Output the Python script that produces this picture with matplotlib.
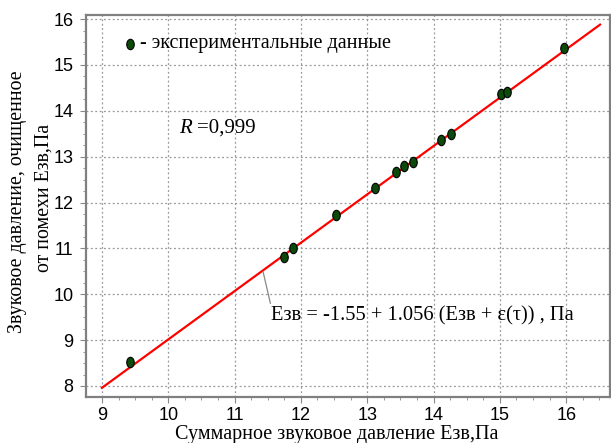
import matplotlib
matplotlib.use("Agg")
import matplotlib.pyplot as plt
from matplotlib.path import Path
from matplotlib.transforms import Affine2D
from matplotlib.ticker import MultipleLocator

# Data
x_total = [9.43, 11.75, 11.88, 12.53, 13.12, 13.43, 13.55, 13.69, 14.11, 14.26, 15.02, 15.11, 15.97]
y_clean = [8.53, 10.81, 11.01, 11.73, 12.31, 12.66, 12.80, 12.88, 13.36, 13.49, 14.36, 14.42, 15.37]
fit_x = [9.0, 16.51]
fit_y = [7.96, 15.88]
x_ticks = [9, 10, 11, 12, 13, 14, 15, 16]
y_ticks = [8, 9, 10, 11, 12, 13, 14, 15, 16]

serif = "Liberation Serif"
sans = "Liberation Sans"

fig = plt.figure(figsize=(6.11, 4.43), dpi=100)
ax = fig.add_axes([86/611, 1-397/443, (610-86)/611, (397-15)/443])

ell = Path.unit_circle().transformed(Affine2D().scale(0.72, 1.0))

ax.plot(fit_x, fit_y, color="#ff0000", lw=1.6, zorder=3)
ax.plot(x_total, y_clean, linestyle="none", marker=ell, markersize=7.5,
        markerfacecolor="#0b4a0b", markeredgecolor="black", markeredgewidth=0.8, zorder=4)

ax.set_xlim(8.76, 16.66)
ax.set_ylim(7.76, 16.09)
ax.set_xticks(x_ticks)
ax.set_yticks(y_ticks)
ax.xaxis.set_minor_locator(MultipleLocator(0.25))
ax.yaxis.set_minor_locator(MultipleLocator(0.25))
ax.tick_params(which="major", length=4, color="#888888", labelsize=13)
ax.tick_params(axis="x", which="major", pad=3)
ax.tick_params(axis="y", which="major", pad=5)
ax.tick_params(which="minor", length=2, color="#888888")
for lab in ax.get_xticklabels() + ax.get_yticklabels():
    lab.set_fontfamily(sans)
ax.grid(True, which="major", linestyle=(0, (1.5, 2)), color="#999999", lw=0.9)
for s in ax.spines.values():
    s.set_color("#808080")
    s.set_linewidth(1.6)

# legend-like entry
ax.plot([9.42], [15.46], linestyle="none", marker=ell, markersize=7.5,
        markerfacecolor="#0b4a0b", markeredgecolor="black", markeredgewidth=0.8)
ax.text(9.57, 15.46, "- экспериментальные данные", fontsize=14.5, family=serif,
        va="center", ha="left")

ax.text(10.16, 13.62, "R", fontsize=15, family=serif, style="italic", va="center", ha="left")
ax.text(10.44, 13.62, "=0,999", fontsize=15, family=serif, va="center", ha="left")

ax.annotate("Eзв = -1.55 + 1.056 (Eзв + ε(τ)) , Па", xy=(11.43, 10.49), xytext=(11.55, 9.53),
            fontsize=14.8, family=serif, va="center", ha="left",
            arrowprops=dict(arrowstyle="-", color="#888888", lw=0.9, shrinkA=0, shrinkB=0,
                            relpos=(0.0, 1.0)))

fig.text(337/611, 1-435/443, "Суммарное звуковое давление Eзв,Па", fontsize=14.5,
         family=serif, ha="center", va="center")
fig.text(18/611, 1-202/443, "Звуковое давление, очищенное", fontsize=14.3,
         family=serif, ha="center", va="center", rotation=90)
fig.text(44/611, 1-198/443, "от помехи Eзв,Па", fontsize=14.3,
         family=serif, ha="center", va="center", rotation=90)

fig.savefig("out.png", dpi=100)
